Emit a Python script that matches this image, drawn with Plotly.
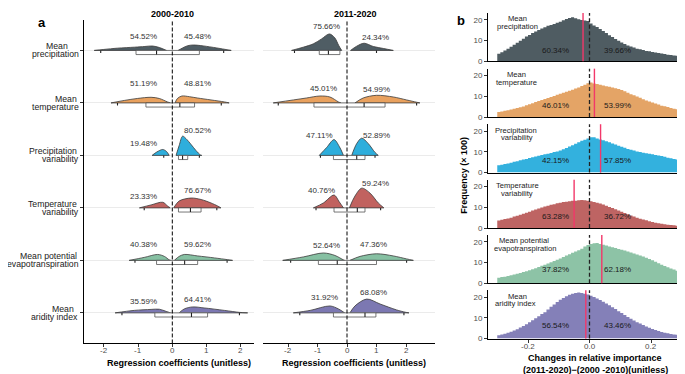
import plotly.graph_objects as go

W, H = 685, 374
FONT = "Liberation Sans, Arial, Helvetica, sans-serif"

# ---------------- DATA ----------------
variables = ["Mean precipitation", "Mean temperature", "Precipitation variability",
             "Temperature variability", "Mean potential evapotranspiration", "Mean aridity index"]
periods = ["2000-2010", "2011-2020"]

colors_a = ["#4f5d64", "#e9a15e", "#2eaedc", "#c1625f", "#86c0a2", "#7c78b2"]
colors_b = ["#4f5c62", "#e4a466", "#33b1de", "#be6463", "#8dc3a6", "#8480b8"]

# half-violin density outlines: (coefficient, density height)
dens_neg_2000 = [
    [(-2.28, 0), (-2.0, 1.0), (-1.6, 2.3), (-1.1, 3.3), (-0.8, 4.0), (-0.58, 4.5), (-0.38, 3.0), (-0.17, 0)],
    [(-1.79, 0), (-1.4, 2.5), (-1.02, 4.5), (-0.62, 5.7), (-0.38, 4.5), (-0.14, 1.0), (-0.06, 0)],
    [(-0.59, 0), (-0.45, 3.5), (-0.28, 6.0), (-0.17, 4.0), (-0.09, 0)],
    [(-0.96, 0), (-0.62, 3.0), (-0.28, 5.7), (-0.14, 2.0), (-0.06, 0)],
    [(-1.26, 0), (-0.82, 3.0), (-0.43, 6.0), (-0.23, 4.0), (-0.09, 0.5), (-0.05, 0)],
    [(-1.67, 0), (-1.11, 2.5), (-0.62, 3.5), (-0.38, 3.7), (-0.18, 1.5), (-0.05, 0)],
]
dens_pos_2000 = [
    [(0.17, 0), (0.3, 2.5), (0.45, 4.8), (0.62, 5.5), (0.9, 4.6), (1.3, 2.5), (1.72, 0)],
    [(0.08, 0), (0.15, 4.5), (0.28, 7.0), (0.5, 6.3), (0.73, 5.0), (1.13, 3.0), (1.52, 1.0), (1.66, 0)],
    [(0.11, 0), (0.2, 10.0), (0.3, 19.5), (0.4, 17.0), (0.55, 11.0), (0.69, 5.0), (0.82, 0.5), (0.86, 0)],
    [(0.04, 0), (0.2, 7.0), (0.55, 10.0), (0.84, 8.5), (1.13, 5.0), (1.32, 2.0), (1.42, 0)],
    [(0.06, 0), (0.2, 4.0), (0.35, 6.0), (0.74, 4.5), (1.23, 2.5), (1.62, 0.7), (1.76, 0)],
    [(0.2, 0), (0.35, 4.0), (0.59, 6.0), (0.93, 5.0), (1.52, 2.5), (1.96, 0.5), (2.2, 0)],
]
dens_neg_2011 = [
    [(-1.88, 0), (-1.48, 3.3), (-1.14, 6.7), (-0.86, 11.7), (-0.6, 16.7), (-0.42, 13.0), (-0.28, 5.0), (-0.18, 0)],
    [(-2.5, 0), (-1.82, 3.0), (-1.37, 5.0), (-0.92, 7.0), (-0.58, 6.0), (-0.29, 1.0), (-0.21, 0)],
    [(-0.94, 0), (-0.69, 8.0), (-0.44, 16.0), (-0.26, 9.0), (-0.12, 0)],
    [(-1.14, 0), (-0.8, 5.0), (-0.44, 13.0), (-0.26, 6.0), (-0.12, 0)],
    [(-2.18, 0), (-1.48, 3.5), (-0.8, 7.5), (-0.41, 5.0), (-0.12, 0.5), (-0.08, 0)],
    [(-1.82, 0), (-1.25, 2.5), (-0.58, 7.0), (-0.29, 4.0), (-0.08, 0)],
]
dens_pos_2011 = [
    [(0.12, 0), (0.33, 4.3), (0.58, 7.3), (0.89, 4.0), (1.23, 2.0), (1.57, 0)],
    [(0.27, 0), (0.55, 5.0), (1.0, 7.7), (1.57, 6.0), (2.02, 3.0), (2.36, 0.7), (2.47, 0)],
    [(0.16, 0), (0.33, 12.0), (0.5, 17.5), (0.72, 12.0), (0.95, 3.0), (1.06, 0)],
    [(0.08, 0), (0.27, 12.0), (0.5, 20.0), (0.78, 15.0), (1.06, 5.0), (1.25, 0)],
    [(0.1, 0), (0.44, 4.0), (1.0, 6.7), (1.57, 4.5), (2.02, 1.5), (2.25, 0)],
    [(0.1, 0), (0.27, 7.0), (0.67, 14.0), (1.12, 9.0), (1.68, 3.0), (1.97, 0.7), (2.1, 0)],
]
# box (q1, median, q3) and whisker ends (lo, hi)
box_2000 = [(-1.06, -0.46, 0.79), (-0.77, 0.22, 0.65), (0.18, 0.30, 0.45),
            (0.18, 0.53, 0.84), (-0.46, 0.36, 0.74), (-0.51, 0.56, 1.03)]
box_2011 = [(-0.94, -0.63, -0.24), (-1.12, 0.58, 1.29), (-0.46, 0.33, 0.61),
            (-0.44, 0.35, 0.61), (-0.97, -0.33, 1.00), (-0.46, 0.61, 0.98)]
whisk_2000 = [(-2.09, 1.50), (-1.60, 1.43), (-0.25, 0.79), (-0.82, 1.30), (-1.09, 1.60), (-1.47, 1.96)]
whisk_2011 = [(-1.78, 1.00), (-2.33, 2.36), (-0.90, 0.95), (-1.05, 1.14), (-1.91, 2.02), (-1.60, 1.93)]

pct_neg_2000 = ["54.52%", "51.19%", "19.48%", "23.33%", "40.38%", "35.59%"]
pct_pos_2000 = ["45.48%", "48.81%", "80.52%", "76.67%", "59.62%", "64.41%"]
pct_neg_2011 = ["75.66%", "45.01%", "47.11%", "40.76%", "52.64%", "31.92%"]
pct_pos_2011 = ["24.34%", "54.99%", "52.89%", "59.24%", "47.36%", "68.08%"]

coef_ticks = [-2, -1, 0, 1, 2]
coef_ticktext = ["-2", "-1", "0", "1", "2"]

# panel b: histograms of change in relative importance (frequency x 100), 60 bins of width 0.01
bin_start = -0.3
bin_width = 0.01
hist_precip = [3.6, 4.3, 5.2, 6.0, 7.0, 8.0, 8.9, 9.9, 10.9, 11.9, 12.7, 13.6, 14.4, 15.1, 15.8,
               16.4, 17.1, 17.5, 18.0, 18.6, 19.1, 19.8, 20.4, 20.9, 21.2, 20.8, 20.3, 19.9, 19.7, 19.4,
               18.2, 17.3, 16.5, 15.6, 14.6, 13.7, 12.6, 11.7, 10.7, 9.9, 9.1, 8.3, 7.6, 7.1, 6.6,
               6.1, 5.8, 5.4, 5.0, 4.8, 4.5, 4.2, 4.0, 3.7, 3.5, 3.2, 3.0, 2.8, 2.7, 2.5]
hist_temp = [2.4, 2.7, 3.0, 3.3, 3.6, 4.0, 4.3, 4.7, 5.1, 5.7, 6.2, 6.7, 7.2, 7.7, 8.2,
             8.7, 9.2, 9.7, 10.2, 10.7, 11.2, 11.7, 12.2, 12.7, 13.2, 13.8, 14.3, 15.0, 15.6, 16.3,
             16.7, 16.2, 15.9, 15.6, 15.2, 14.9, 14.6, 14.3, 13.9, 13.5, 13.0, 12.4, 11.7, 11.0, 10.5,
             9.9, 9.3, 8.6, 8.0, 7.5, 7.0, 6.5, 6.0, 5.5, 5.2, 4.8, 4.4, 4.0, 3.7, 3.4]
hist_precip_var = [3.5, 3.8, 4.1, 4.4, 4.8, 5.2, 5.5, 5.9, 6.3, 6.6, 7.0, 7.4, 7.8, 8.1, 8.5,
                   8.8, 9.1, 9.5, 9.9, 10.2, 10.7, 11.3, 11.9, 12.6, 13.2, 13.9, 14.6, 15.3, 15.9, 16.5,
                   17.1, 17.0, 16.5, 16.0, 15.6, 15.1, 14.6, 14.0, 13.5, 12.9, 12.5, 12.0, 11.4, 11.0, 10.6,
                   10.2, 9.9, 9.6, 9.3, 9.1, 8.8, 8.5, 8.3, 8.0, 7.6, 7.2, 6.9, 6.6, 6.3, 6.0]
hist_temp_var = [3.6, 4.0, 4.3, 4.6, 5.0, 5.5, 5.9, 6.4, 6.9, 7.4, 7.9, 8.4, 8.9, 9.4, 9.9,
                 10.4, 10.8, 11.2, 11.5, 11.9, 12.2, 12.5, 12.7, 12.9, 13.1, 13.2, 13.4, 13.5, 13.4, 13.2,
                 12.9, 12.6, 12.2, 11.8, 11.3, 10.8, 10.2, 9.6, 9.0, 8.4, 7.8, 7.2, 6.6, 6.0, 5.5,
                 5.0, 4.5, 4.1, 3.7, 3.3, 2.9, 2.6, 2.3, 2.0, 1.8, 1.6, 1.4, 1.3, 1.1, 1.0]
hist_pet = [2.7, 3.0, 3.2, 3.5, 3.9, 4.2, 4.6, 5.0, 5.4, 5.8, 6.3, 6.8, 7.3, 7.8, 8.4,
            8.9, 9.5, 10.1, 10.7, 11.3, 12.0, 12.7, 13.4, 14.0, 14.7, 15.3, 15.9, 16.7, 17.8, 18.5,
            18.9, 19.3, 19.4, 19.0, 18.6, 18.2, 17.8, 17.4, 17.0, 16.6, 16.2, 15.8, 15.3, 14.9, 14.4,
            13.9, 13.4, 12.9, 12.3, 11.7, 11.1, 10.4, 9.7, 9.0, 8.3, 7.7, 7.1, 6.6, 6.1, 5.6]
hist_aridity = [1.6, 1.9, 2.3, 2.8, 3.3, 3.9, 4.5, 5.3, 6.0, 6.9, 7.8, 8.8, 9.8, 10.8, 11.8,
                12.7, 14.0, 15.3, 16.4, 17.6, 18.7, 19.6, 20.4, 21.1, 21.6, 22.0, 22.2, 22.0, 21.6, 21.2,
                20.6, 20.0, 19.3, 18.6, 17.8, 16.9, 16.0, 15.1, 14.2, 13.2, 12.3, 11.3, 10.4, 9.5, 8.7,
                7.9, 7.2, 6.5, 5.8, 5.2, 4.6, 4.1, 3.6, 3.2, 2.8, 2.5, 2.2, 2.0, 1.8, 1.6]
hists = [hist_precip, hist_temp, hist_precip_var, hist_temp_var, hist_pet, hist_aridity]
mean_change = [-0.021, 0.016, 0.036, -0.050, 0.040, -0.012]
pct_b_neg = ["60.34%", "46.01%", "42.15%", "63.28%", "37.82%", "56.54%"]
pct_b_pos = ["39.66%", "53.99%", "57.85%", "36.72%", "62.18%", "43.46%"]
change_ticks = [-0.2, 0.0, 0.2]
change_ticktext = ["-0.2", "0.0", "0.2"]

# ---------------- LAYOUT GEOMETRY (pixels) ----------------
def fx(px):
    return px / W

def fy(py):
    return 1 - py / H

ROW_PX = 53.2          # px between rows in panel a
ROW1_Y = 43            # baseline pixel of first row
A_TOP, A_BOT = 12, 340
S = 1 / ROW_PX         # density height (px) -> row units
yr_a = [6 - (A_BOT - ROW1_Y) / ROW_PX, 6 + (ROW1_Y - A_TOP) / ROW_PX]

A_L = (76, 246, 164.3, 34.25)    # left px, right px, zero px, px per unit
A_R = (255, 427, 339.0, 29.5)

def xr(spec):
    l, r, z, k = spec
    return [(l - z) / k, (r - z) / k]

B_L, B_R, B_ZERO, B_K = 480, 685, 581.5, 307.5
B_BASE = [54, 110.5, 166.8, 223, 279, 335]
B_HPX = 49
B_PXU = 2.1

fig = go.Figure()
OUT = "#3a3a3a"

# ---------------- PANEL A ----------------
panel_a = [
    ("x", "y", dens_neg_2000, dens_pos_2000, box_2000, whisk_2000, pct_neg_2000, pct_pos_2000,
     [-0.85] * 6, [14, 19.5, 12, 12, 16, 12], [0.75] * 6, [14, 20, 25, 18, 16, 14]),
    ("x2", "y2", dens_neg_2011, dens_pos_2011, box_2011, whisk_2011, pct_neg_2011, pct_pos_2011,
     [-0.69, -0.81, -0.92, -0.86, -0.71, -0.75], [24, 15, 20, 18, 15.5, 16],
     [0.95, 1.0, 1.0, 0.95, 0.89, 0.89], [13, 14, 20, 24.5, 16, 21]),
]
annotations = []
BOX_D = 4.2 * S
TICK_D = 2.5 * S
for (xa, ya, dn, dp, bx, wk, pn, pp, lxn, lyn, lxp, lyp) in panel_a:
    for r in range(6):
        base = 6 - r
        col = colors_a[r]
        for hump in (dn[r], dp[r]):
            fig.add_trace(go.Scatter(
                x=[p[0] for p in hump], y=[base + p[1] * S for p in hump],
                xaxis=xa, yaxis=ya, mode="lines", fill="toself", fillcolor=col,
                line=dict(color=OUT, width=0.8, shape="spline", smoothing=0.9),
                hoverinfo="skip", showlegend=False))
        fig.add_trace(go.Scatter(
            x=[dn[r][0][0], dn[r][-1][0], None, dp[r][0][0], dp[r][-1][0]],
            y=[base, base, None, base, base], xaxis=xa, yaxis=ya, mode="lines",
            line=dict(color=OUT, width=0.8), hoverinfo="skip", showlegend=False))
        q1, md, q3 = bx[r]
        fig.add_trace(go.Scatter(
            x=[q1, q3, q3, q1, q1], y=[base, base, base - BOX_D, base - BOX_D, base],
            xaxis=xa, yaxis=ya, mode="lines", fill="toself", fillcolor="white",
            line=dict(color="#555555", width=0.8), hoverinfo="skip", showlegend=False))
        lo, hi = wk[r]
        fig.add_trace(go.Scatter(
            x=[md, md, None, lo, lo, None, hi, hi],
            y=[base, base - BOX_D, None, base, base - TICK_D, None, base, base - TICK_D],
            xaxis=xa, yaxis=ya, mode="lines", line=dict(color="#222222", width=1.1),
            hoverinfo="skip", showlegend=False))
        for txt, lx, ly in ((pn[r], lxn[r], lyn[r]), (pp[r], lxp[r], lyp[r])):
            annotations.append(dict(x=lx, y=base + ly * S, xref=xa, yref=ya, text=txt,
                                    showarrow=False, font=dict(family=FONT, size=8, color="#333333"),
                                    xanchor="center", yanchor="middle"))
    for tv, tt in zip(coef_ticks, coef_ticktext):
        annotations.append(dict(x=tv, y=fy(347.5), xref=xa, yref="paper", text=tt, showarrow=False,
                                font=dict(family=FONT, size=8, color="#4d4d4d"),
                                xanchor="center", yanchor="middle"))

# ---------------- PANEL B ----------------
n_bins = len(hist_precip)
bin_edges = [round(bin_start + bin_width * k, 4) for k in range(n_bins + 1)]
for i in range(6):
    xa, ya = f"x{3 + i}", f"y{3 + i}"
    counts = hists[i]
    # step outline of the histogram (each bin drawn flat across its own edges)
    fig.add_trace(go.Scatter(x=bin_edges, y=list(counts) + [counts[-1]], xaxis=xa, yaxis=ya,
                             mode="lines", line=dict(shape="hv", width=0, color=colors_b[i]),
                             fill="tozeroy", fillcolor=colors_b[i],
                             hoverinfo="skip", showlegend=False))
    for txt, lx in ((pct_b_neg[i], -0.11), (pct_b_pos[i], 0.09)):
        annotations.append(dict(x=lx, y=[11.3, 11.7, 12, 11.3, 14, 13.3][i] / B_PXU,
                                xref=xa, yref=ya, text=txt, showarrow=False,
                                font=dict(family=FONT, size=8, color="#1a1a1a"),
                                xanchor="center", yanchor="middle"))
for tv, tt in zip(change_ticks, change_ticktext):
    annotations.append(dict(x=tv, y=fy(343.5), xref="x8", yref="paper", text=tt, showarrow=False,
                            font=dict(family=FONT, size=8, color="#4d4d4d"),
                            xanchor="center", yanchor="middle"))

# ---------------- AXES ----------------
layout_axes = {}
common_a_x = dict(showline=True, linecolor="black", linewidth=1, ticks="outside", ticklen=3,
                  tickcolor="#333333", tickvals=coef_ticks, showticklabels=False,
                  showgrid=False, zeroline=False, fixedrange=True)
layout_axes["xaxis"] = dict(common_a_x, domain=[fx(A_L[0]), fx(A_L[1])], range=xr(A_L), anchor="y")
layout_axes["xaxis2"] = dict(common_a_x, domain=[fx(A_R[0]), fx(A_R[1])], range=xr(A_R), anchor="y2")
common_a_y = dict(domain=[fy(A_BOT), fy(A_TOP)], range=yr_a, tickvals=[1, 2, 3, 4, 5, 6],
                  showticklabels=False, showgrid=True, gridcolor="#ebebeb", gridwidth=1, zeroline=False)
layout_axes["yaxis"] = dict(common_a_y, anchor="x", showline=True, linecolor="black", linewidth=1,
                            ticks="outside", ticklen=3, tickcolor="#333333")
layout_axes["yaxis2"] = dict(common_a_y, anchor="x2", showline=False, ticks="")

for i in range(6):
    n = 3 + i
    bottom = (i == 5)
    layout_axes[f"xaxis{n}"] = dict(
        domain=[fx(B_L), 1.0], range=[(B_L - B_ZERO) / B_K, (B_R - B_ZERO) / B_K], anchor=f"y{n}",
        showline=True, linecolor="black", linewidth=1.3, showgrid=False, zeroline=False,
        ticks="outside" if bottom else "", ticklen=3, tickcolor="#333333",
        tickvals=change_ticks, showticklabels=False)
    layout_axes[f"yaxis{n}"] = dict(
        domain=[fy(B_BASE[i]), fy(B_BASE[i] - B_HPX)], range=[0, B_HPX / B_PXU], anchor=f"x{n}",
        showline=True, linecolor="black", linewidth=1, showgrid=False, zeroline=False,
        ticks="outside", ticklen=3, tickcolor="#333333", tickvals=[0, 10, 20],
        tickfont=dict(family=FONT, size=8, color="#4d4d4d"))

# ---------------- SHAPES ----------------
shapes = []
for xa, ya in (("x", "y"), ("x2", "y2")):
    shapes.append(dict(type="line", xref=xa, yref=f"{ya} domain", x0=0, x1=0, y0=0, y1=1,
                       line=dict(color="black", width=1, dash="4px,2px"), layer="above"))
for i in range(6):
    n = 3 + i
    shapes.append(dict(type="line", xref=f"x{n}", yref=f"y{n} domain", x0=mean_change[i],
                       x1=mean_change[i], y0=0, y1=1, line=dict(color="#f2386a", width=1.4),
                       layer="above"))
    shapes.append(dict(type="line", xref=f"x{n}", yref=f"y{n} domain", x0=0, x1=0, y0=0, y1=1,
                       line=dict(color="#222222", width=1.3, dash="4px,2.5px"), layer="above"))

# ---------------- TEXT ----------------
def pa(text, px, py, size=9, color="#222222", xanchor="center", bold=False, angle=0):
    annotations.append(dict(x=fx(px), y=fy(py), xref="paper", yref="paper",
                            text=f"<b>{text}</b>" if bold else text, showarrow=False,
                            textangle=angle, xanchor=xanchor, yanchor="middle",
                            font=dict(family=FONT, size=size, color=color)))

pa("a", 34, 15, size=13, color="black", bold=True)
pa("b", 453, 13, size=13, color="black", bold=True)
pa(periods[0], 164.5, 6.5, size=9, color="black", bold=True)
pa(periods[1], 347, 6.5, size=9, color="black", bold=True)
pa("Regression coefficients (unitless)", 171, 360, size=9, color="black", bold=True)
pa("Regression coefficients (unitless)", 345.5, 360, size=9, color="black", bold=True)
pa("Changes in relative importance", 587, 355, size=9, color="black", bold=True)
pa("(2011-2020)\u2212(2000 -2010)(unitless)", 587, 366.5, size=9, color="black", bold=True)
pa("Frequency (\u00d7 100)", 456, 170, size=9, color="black", bold=True, angle=-90)

row_lines = [[("Mean", 62), ("precipitation", 73.3)],
             [("Mean", 71), ("temperature", 73.3)],
             [("Precipitation", 71), ("variability", 73.3)],
             [("Temperature", 71), ("variability", 73.3)],
             [("Mean potential", 71), ("evapotranspiration", 73.3)],
             [("Mean", 68.3), ("aridity index", 71.7)]]
for r, lines in enumerate(row_lines):
    base_px = ROW1_Y + r * ROW_PX
    for (t, rx), dy in zip(lines, (-4.0, 3.8)):
        pa(t, rx, base_px + dy, size=8.7, color="#222222", xanchor="right")

b_lines = [[("Mean", 509), ("precipitation", 509)],
           [("Mean", 508), ("temperature", 508)],
           [("Precipitation", 508), ("variability", 509)],
           [("Temperature", 509), ("variability", 509)],
           [("Mean potential", 516), ("evapotranspiration", 516.5)],
           [("Mean", 509.5), ("aridity index", 507.3)]]
for i, lines in enumerate(b_lines):
    for (t, cx), dy in zip(lines, (-43.0, -35.2)):
        pa(t, cx, B_BASE[i] + dy, size=7.6, color="#1a1a1a")

fig.update_layout(width=W, height=H, margin=dict(l=0, r=0, t=0, b=0),
                  paper_bgcolor="white", plot_bgcolor="white", showlegend=False,
                  shapes=shapes, annotations=annotations,
                  font=dict(family=FONT), **layout_axes)

fig.write_html("out.html")
